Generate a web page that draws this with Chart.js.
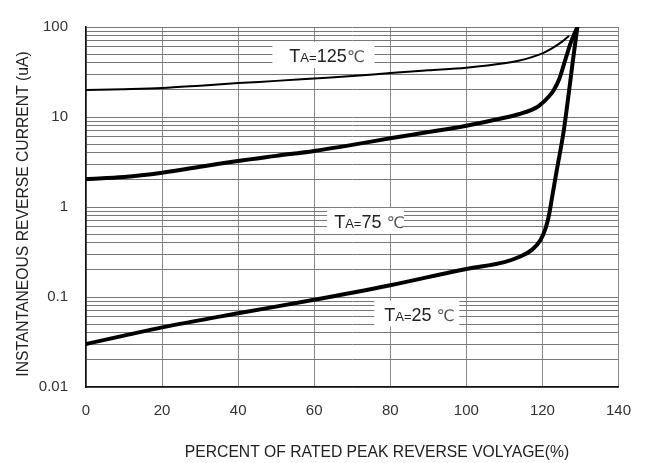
<!DOCTYPE html>
<html>
<head>
<meta charset="utf-8">
<script src="https://cdn.jsdelivr.net/npm/chart.js@4/dist/chart.umd.min.js"></script>
<style>
html,body{margin:0;padding:0;background:#fff;}
#wrap{width:646px;height:463px;position:relative;}
</style>
</head>
<body>
<div id="wrap"><canvas id="c" width="646" height="463"></canvas></div>
<script>
// ---- data ----
const x125 = [0, 10, 20, 30, 40, 50, 60, 70, 80, 90, 100, 110, 114, 117, 120, 122.5, 125, 127];
const y125 = [20, 20.4, 21, 22.3, 23.8, 25.2, 26.8, 28.5, 30.8, 33, 35.3, 39.5, 42.5, 46, 51, 58, 68, 80];

const x75 = [0, 10, 20, 30, 40, 50, 60, 70, 80, 90, 100, 110, 114, 117, 119, 121.7, 123, 124.5, 126, 127.5, 129.2];
const y75 = [2.05, 2.15, 2.4, 2.8, 3.25, 3.7, 4.2, 4.9, 5.8, 6.8, 8.0, 9.8, 10.8, 11.9, 13.2, 16.9, 20, 27, 43, 68, 100];

const x25 = [0, 20, 40, 60, 80, 100, 110, 114, 117.3, 119.5, 120.8, 121.7, 122.5, 123.8, 125.6, 126.9, 128, 129.2];
const y25 = [0.03, 0.046, 0.066, 0.093, 0.135, 0.205, 0.244, 0.28, 0.336, 0.43, 0.575, 0.8, 1.25, 2.6, 7.0, 18, 42, 100];

const xTicks = [0, 20, 40, 60, 80, 100, 120, 140];
const yDecades = [0.01, 0.1, 1, 10, 100];
const yDecadeLabels = ['0.01', '0.1', '1', '10', '100'];
const yMinorFactors = [2, 3, 4, 5, 6, 7, 8, 9];

const xTitle = 'PERCENT OF RATED PEAK REVERSE VOLYAGE(%)';
const yTitle = 'INSTANTANEOUS REVERSE CURRENT (uA)';

const curveLabels = [
  {main: 'T', sub: 'A=', val: '125', unit: '\u2103', x: 49.0, y: 48.8},
  {main: 'T', sub: 'A=', val: '75 ', unit: '\u2103', x: 63.4, y: 0.70},
  {main: 'T', sub: 'A=', val: '25 ', unit: '\u2103', x: 75.8, y: 0.0654}
];
const labelStyle = [
  {w: 102, h: 26, pad: 17},
  {w: 77, h: 26, pad: 7},
  {w: 85, h: 26, pad: 10}
];

// build y grid tick values from decades
const yGrid = [];
yDecades.forEach((d, i) => {
  yGrid.push(d);
  if (i < yDecades.length - 1) yMinorFactors.forEach(f => yGrid.push(+(d * f).toPrecision(3)));
});

function pts(xs, ys) { return xs.map((x, i) => ({x: x, y: ys[i]})); }

const FONT = '"Liberation Sans", Arial, Helvetica, sans-serif';

const labelPlugin = {
  id: 'curveLabels',
  beforeDatasetsDraw(chart) {
    const ctx = chart.ctx;
    const xs = chart.scales.x, ys = chart.scales.y;
    ctx.save();
    curveLabels.forEach((l, i) => {
      const st = labelStyle[i];
      const left = xs.getPixelForValue(l.x);
      const cy = ys.getPixelForValue(l.y);
      ctx.fillStyle = '#fff';
      ctx.fillRect(left, cy - st.h / 2, st.w, st.h);
      let px = left + st.pad;
      const base = cy + 7;
      ctx.textBaseline = 'alphabetic';
      ctx.textAlign = 'left';
      ctx.fillStyle = '#222';
      ctx.font = '18px ' + FONT;
      ctx.fillText(l.main, px, base);
      px += ctx.measureText(l.main).width;
      ctx.font = '13px ' + FONT;
      ctx.fillText(l.sub, px, base);
      px += ctx.measureText(l.sub).width;
      ctx.font = '18px ' + FONT;
      ctx.fillText(l.val, px, base);
      px += ctx.measureText(l.val).width;
      ctx.fillStyle = '#555';
      ctx.font = '16px "DejaVu Sans", ' + FONT;
      ctx.fillText(l.unit, px, base);
    });
    ctx.restore();
  },
  afterDraw(chart) {
    const ctx = chart.ctx;
    ctx.save();
    ctx.fillStyle = '#222';
    ctx.font = '15.7px ' + FONT;
    ctx.textAlign = 'center';
    ctx.textBaseline = 'alphabetic';
    ctx.fillText(xTitle, 377, 457);
    ctx.translate(28, 214);
    ctx.rotate(-Math.PI / 2);
    ctx.fillText(yTitle, 0, 0);
    ctx.restore();
  }
};

new Chart(document.getElementById('c'), {
  type: 'line',
  data: {
    datasets: [
      {label: 'TA=125\u2103', data: pts(x125, y125), borderColor: '#000', borderWidth: 2, pointRadius: 0, cubicInterpolationMode: 'monotone', fill: false},
      {label: 'TA=75\u2103', data: pts(x75, y75), borderColor: '#000', borderWidth: 4, pointRadius: 0, cubicInterpolationMode: 'monotone', fill: false},
      {label: 'TA=25\u2103', data: pts(x25, y25), borderColor: '#000', borderWidth: 4, pointRadius: 0, cubicInterpolationMode: 'monotone', fill: false}
    ]
  },
  options: {
    responsive: false,
    animation: false,
    devicePixelRatio: 1,
    layout: {padding: {left: 0, right: 26, top: 15, bottom: 0}},
    plugins: {legend: {display: false}, tooltip: {enabled: false}, title: {display: false}},
    scales: {
      x: {
        type: 'linear', min: 0, max: 140,
        afterBuildTicks(s) { s.ticks = xTicks.map(v => ({value: v})); },
        afterFit(s) { s.height = 76; },
        grid: {color: '#8a8a8a', lineWidth: 1, drawTicks: false},
        border: {color: '#111', width: 1.5},
        ticks: {padding: 15, color: '#333', font: {family: FONT, size: 15}, maxRotation: 0, autoSkip: false}
      },
      y: {
        type: 'logarithmic', min: 0.01, max: 100,
        afterBuildTicks(s) { s.ticks = yGrid.map(v => ({value: v})); },
        afterFit(s) { s.width = 86; },
        grid: {color: '#777', lineWidth: 1, drawTicks: false},
        border: {color: '#111', width: 1.5},
        ticks: {
          padding: 18, color: '#333', font: {family: FONT, size: 15}, autoSkip: false,
          callback(v) { const i = yDecades.findIndex(d => Math.abs(d - v) / d < 1e-6); return i >= 0 ? yDecadeLabels[i] : ''; }
        }
      }
    }
  },
  plugins: [labelPlugin]
});
</script>
</body>
</html>
